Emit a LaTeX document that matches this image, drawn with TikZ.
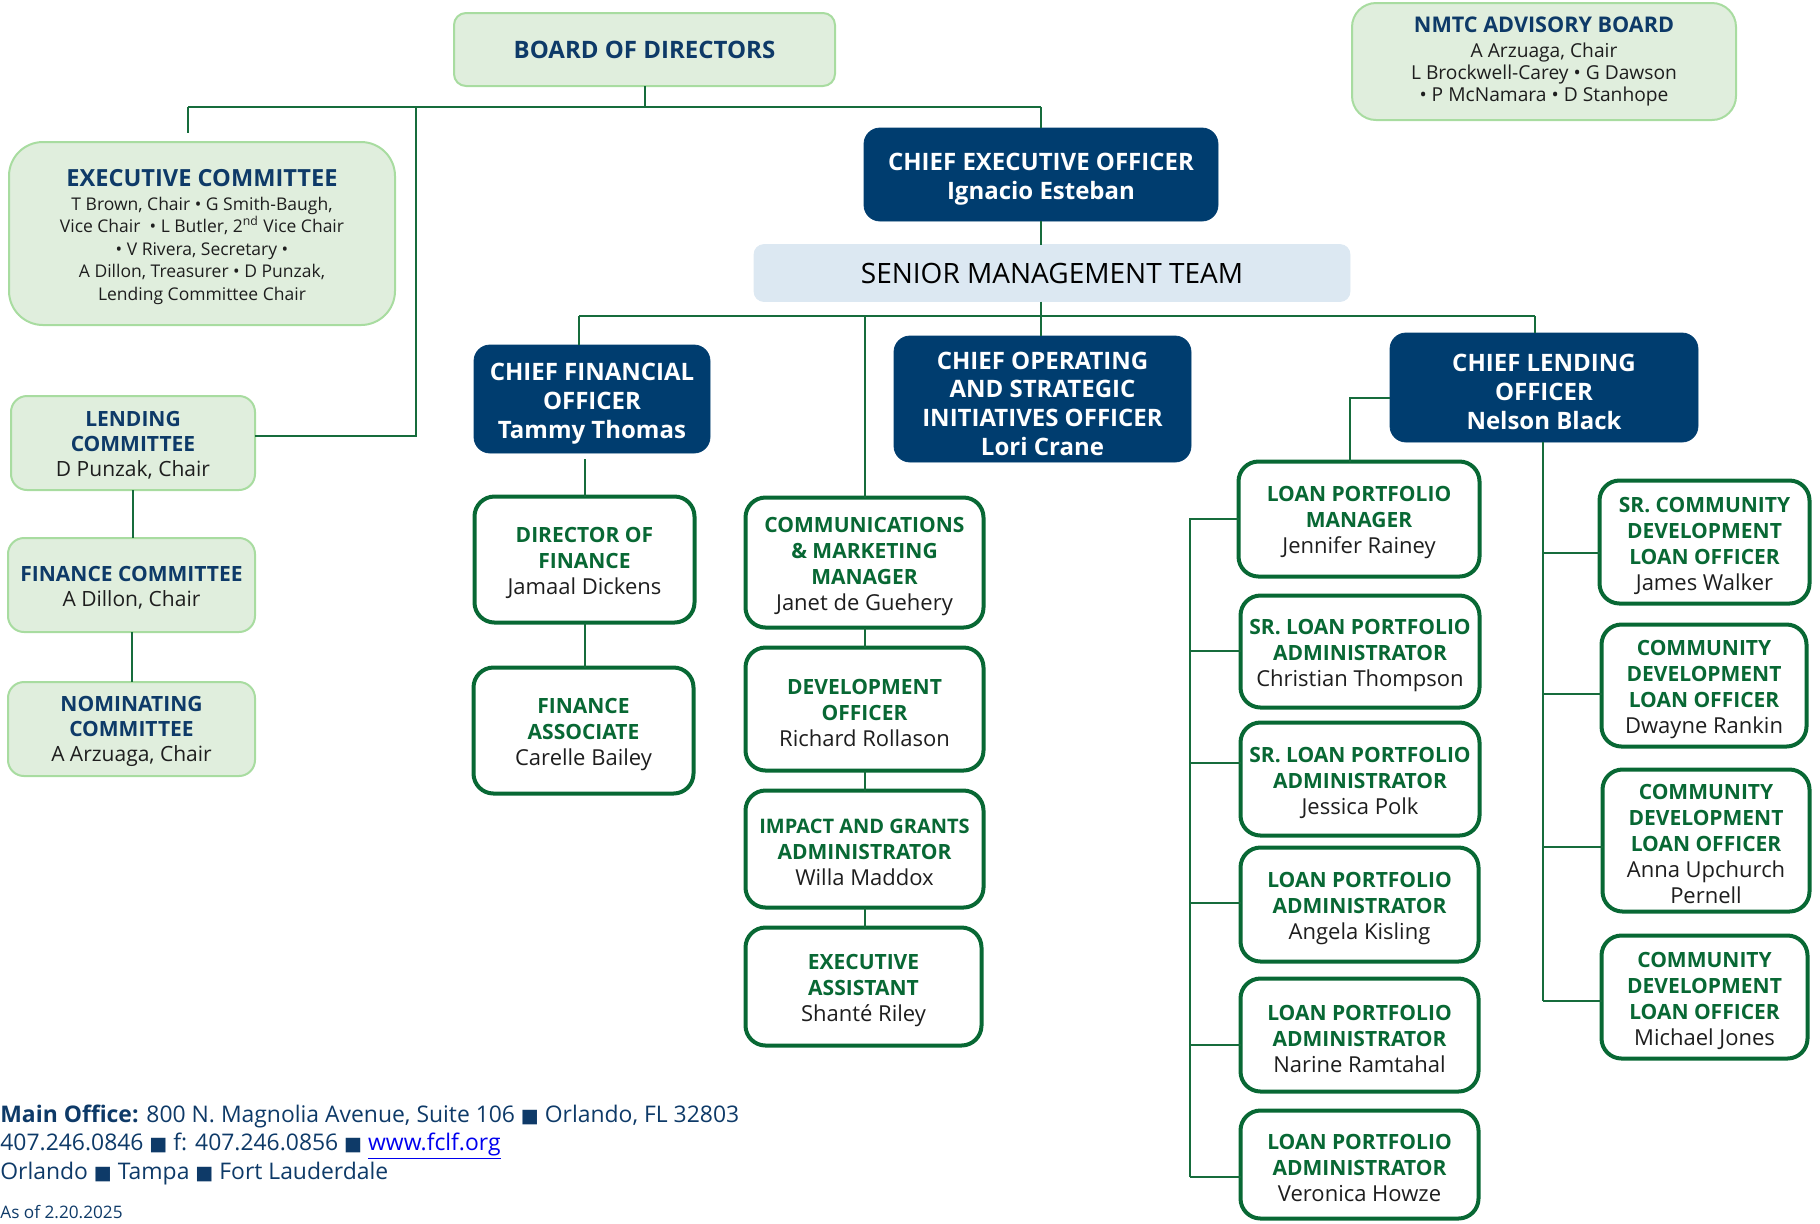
\documentclass[tikz,border=0pt]{standalone}
\usepackage{fontspec}
\setmainfont{Open Sans}
\newfontfamily\symfont{DejaVu Sans}
\usetikzlibrary{calc}
\definecolor{navy}{RGB}{0,61,111}
\definecolor{tblue}{RGB}{14,58,104}
\definecolor{dgreen}{RGB}{8,104,52}
\definecolor{lgreen}{RGB}{224,238,221}
\definecolor{lgborder}{RGB}{168,220,160}
\definecolor{smtblue}{RGB}{220,232,242}
\definecolor{bodyc}{RGB}{30,30,30}
\definecolor{connc}{RGB}{22,108,60}
\definecolor{linkblue}{RGB}{0,0,238}
\newcommand{\grt}[1]{{\bfseries\fontsize{10.5}{13}\selectfont\color{dgreen}#1}}
\newcommand{\ctt}[1]{{\bfseries\color{tblue}#1}}
\newcommand{\sqm}{{\symfont\fontsize{9.5}{9.5}\selectfont ■}}
\newcommand{\tpad}[1]{\rule{0pt}{#1}}
\begin{document}
\begin{tikzpicture}[x=0.5pt,y=-0.5pt,
  sz/.style 2 args={minimum width={#1*0.5pt}, minimum height={#2*0.5pt}},
  box/.style={rectangle, align=center, inner sep=0pt, outer sep=0pt},
  navybox/.style={box, fill=navy, draw=navy, text=white, rounded corners=8pt, font=\bfseries\fontsize{12}{14.5}\selectfont},
  greenbox/.style={box, fill=white, draw=dgreen, line width=2pt, rounded corners=10pt, text=bodyc, font=\fontsize{11}{13}\selectfont},
  commbox/.style={box, fill=lgreen, draw=lgborder, line width=1pt, rounded corners=8pt, text=bodyc},
  conn/.style={draw=connc, line width=1pt}
]
\useasboundingbox (0,0) rectangle (1820,1223);
% Board level
\node[commbox, sz={381}{73}, rounded corners=6pt, font=\bfseries\fontsize{12}{14}\selectfont, text=tblue] (board) at (644.5,49.5) {BOARD OF DIRECTORS};
\node[commbox, sz={386}{183}, rounded corners=17pt, font=\fontsize{8.75}{11.25}\selectfont] (exec) at (202,233.5)
  {\tpad{12.2pt}{\bfseries\color{tblue}\fontsize{11.8}{14}\selectfont EXECUTIVE COMMITTEE}\\[0.5pt]
   T Brown, Chair • G Smith-Baugh,\\Vice Chair~ • L Butler, 2\textsuperscript{nd} Vice Chair\\• V Rivera, Secretary •\\A Dillon, Treasurer • D Punzak,\\Lending Committee Chair};
\node[commbox, sz={384}{117}, rounded corners=12pt, font=\fontsize{9.6}{11}\selectfont] (nmtc) at (1544,61.5)
  {{\bfseries\color{tblue}\fontsize{10.8}{12}\selectfont NMTC ADVISORY BOARD}\\[1.5pt]A Arzuaga, Chair\\L Brockwell-Carey • G Dawson\\• P McNamara • D Stanhope};
\node[commbox, sz={244}{94}, font=\fontsize{10.5}{12.5}\selectfont] (lending) at (133,443) {\tpad{9.9pt}\ctt{LENDING}\\\ctt{COMMITTEE}\\D Punzak, Chair};
\node[commbox, sz={247}{94}, font=\fontsize{10.5}{12.5}\selectfont] (finance) at (131.5,585) {\tpad{9.9pt}\ctt{FINANCE COMMITTEE}\\A Dillon, Chair};
\node[commbox, sz={247}{94}, font=\fontsize{10.5}{12.5}\selectfont] (nominating) at (131.5,729) {\tpad{9.9pt}\ctt{NOMINATING}\\\ctt{COMMITTEE}\\A Arzuaga, Chair};
% Executives
\node[navybox, sz={354}{93}] (ceo) at (1041,174.5) {\tpad{13.6pt}CHIEF EXECUTIVE OFFICER\\Ignacio Esteban};
\node[box, fill=smtblue, draw=smtblue, sz={596}{57}, rounded corners=5pt, font=\fontsize{14}{16}\selectfont, text=black] (smt) at (1052,273) {SENIOR MANAGEMENT TEAM};
\node[navybox, sz={236}{108}] (cfo) at (592,399) {\tpad{13.6pt}CHIEF FINANCIAL\\OFFICER\\Tammy Thomas};
\node[navybox, sz={297}{126}] (coo) at (1042.5,399) {\tpad{13.6pt}CHIEF OPERATING\\AND STRATEGIC\\INITIATIVES OFFICER\\Lori Crane};
\node[navybox, sz={308}{109}] (clo) at (1544,387.5) {\tpad{13.6pt}CHIEF LENDING\\OFFICER\\Nelson Black};
% Finance column
\node[greenbox, sz={220}{126}] (dof) at (584.5,559.5) {\tpad{11.2pt}\grt{DIRECTOR OF}\\\grt{FINANCE}\\Jamaal Dickens};
\node[greenbox, sz={220}{126}] (finassoc) at (583.5,730.5) {\tpad{11.2pt}\grt{FINANCE}\\\grt{ASSOCIATE}\\Carelle Bailey};
% Operations column
\node[greenbox, sz={238}{130}] (comms) at (864.5,562.5) {\tpad{11.2pt}\grt{COMMUNICATIONS}\\\grt{\& MARKETING}\\\grt{MANAGER}\\Janet de Guehery};
\node[greenbox, sz={238}{123}] (dev) at (864.5,709) {\tpad{11.2pt}\grt{DEVELOPMENT}\\\grt{OFFICER}\\Richard Rollason};
\node[greenbox, sz={238}{117}] (impact) at (864.5,849) {\tpad{11pt}\grt{\fontsize{10}{13}\selectfont IMPACT AND GRANTS}\\\grt{ADMINISTRATOR}\\Willa Maddox};
\node[greenbox, sz={236}{118}] (execasst) at (863.5,986.5) {\tpad{11.2pt}\grt{EXECUTIVE}\\\grt{ASSISTANT}\\Shanté Riley};
% Lending: portfolio column
\node[greenbox, sz={241}{115}] (lpm) at (1359,519) {\tpad{11.2pt}\grt{LOAN PORTFOLIO}\\\grt{MANAGER}\\Jennifer Rainey};
\node[greenbox, sz={239}{112}] (chris) at (1360,651.5) {\tpad{11.2pt}\grt{SR. LOAN PORTFOLIO}\\\grt{ADMINISTRATOR}\\Christian Thompson};
\node[greenbox, sz={239}{113}] (jess) at (1360,779) {\tpad{11.2pt}\grt{SR. LOAN PORTFOLIO}\\\grt{ADMINISTRATOR}\\Jessica Polk};
\node[greenbox, sz={238}{114}] (angela) at (1359.5,904.5) {\tpad{11.2pt}\grt{LOAN PORTFOLIO}\\\grt{ADMINISTRATOR}\\Angela Kisling};
\node[greenbox, sz={238}{113}] (narine) at (1359.5,1035) {\tpad{11.2pt}\grt{LOAN PORTFOLIO}\\\grt{ADMINISTRATOR}\\Narine Ramtahal};
\node[greenbox, sz={238}{108}] (veronica) at (1359.5,1164.5) {\tpad{11.2pt}\grt{LOAN PORTFOLIO}\\\grt{ADMINISTRATOR}\\Veronica Howze};
% Lending: community development column
\node[greenbox, sz={210}{123}] (srcdlo) at (1704.5,542) {\tpad{11.2pt}\grt{SR. COMMUNITY}\\\grt{DEVELOPMENT}\\\grt{LOAN OFFICER}\\James Walker};
\node[greenbox, sz={205}{122}] (dwayne) at (1704,685.5) {\tpad{11.2pt}\grt{COMMUNITY}\\\grt{DEVELOPMENT}\\\grt{LOAN OFFICER}\\Dwayne Rankin};
\node[greenbox, sz={207}{142}] (anna) at (1706,840.5) {\tpad{11.2pt}\grt{COMMUNITY}\\\grt{DEVELOPMENT}\\\grt{LOAN OFFICER}\\Anna Upchurch\\Pernell};
\node[greenbox, sz={206}{123}] (michael) at (1704.5,997) {\tpad{11.6pt}\grt{COMMUNITY}\\\grt{DEVELOPMENT}\\\grt{LOAN OFFICER}\\Michael Jones};
% Connectors
\coordinate (bL) at (188,107);
\coordinate (bM) at (416,107);
\coordinate (bR) at (1041,107);
\draw[conn] (board.south) -- (board.south |- bL);
\draw[conn] (bL) -- (bR);
\draw[conn, shorten >=4.5pt] (bL) -- (exec.north -| bL);
\draw[conn] (bM) |- (lending.east |- 0,435.7);
\draw[conn] (bR) -- (ceo.north -| bR);
\draw[conn] (ceo.south) -- (smt.north -| ceo.south);
\coordinate (sL) at (579,316);
\coordinate (sC) at (865,316);
\coordinate (sM) at (1041,316);
\coordinate (sR) at (1535,316);
\draw[conn] (smt.south -| sM) -- (sM);
\draw[conn] (sL) -- (sR);
\draw[conn] (sL) -- (cfo.north -| sL);
\draw[conn] (sC) -- (comms.north -| sC);
\draw[conn] (sM) -- (coo.north -| sM);
\draw[conn] (sR) -- (clo.north -| sR);
\draw[conn, shorten <=3pt] (cfo.south -| dof.north) -- (dof.north);
\draw[conn] (dof.south) -- (finassoc.north -| dof.south);
\draw[conn] (comms.south) -- (dev.north -| comms.south);
\draw[conn] (dev.south) -- (impact.north -| dev.south);
\draw[conn] (impact.south) -- (execasst.north -| impact.south);
\draw[conn] (lending.south) -- (finance.north -| lending.south);
\draw[conn] (finance.south) -- (nominating.north -| finance.south);
\draw[conn] (clo.west |- 0,398) -| (lpm.north -| 1350,0);
\coordinate (lpT) at (1190,519);
\coordinate (lpB) at (1190,1177);
\draw[conn] (lpm.west) -- (lpT) -- (lpB);
\draw[conn] (lpT |- 0,651) -- (chris.west |- 0,651);
\draw[conn] (lpT |- 0,763) -- (jess.west |- 0,763);
\draw[conn] (lpT |- 0,903) -- (angela.west |- 0,903);
\draw[conn] (lpT |- 0,1045) -- (narine.west |- 0,1045);
\draw[conn] (lpB) -- (veronica.west |- lpB);
\coordinate (cT) at (1543,442);
\coordinate (cB) at (1543,1001);
\draw[conn] (clo.south -| cT) -- (cB);
\draw[conn] (cT |- 0,553) -- (srcdlo.west |- 0,553);
\draw[conn] (cT |- 0,694) -- (dwayne.west |- 0,694);
\draw[conn] (cT |- 0,847) -- (anna.west |- 0,847);
\draw[conn] (cB) -- (michael.west |- cB);
% Footer
\node[anchor=base west, inner sep=0pt, font=\fontsize{11.45}{13}\selectfont, text=tblue] (addr1) at (0,1122) {\textbf{Main Office:} 800 N. Magnolia Avenue, Suite 106 \sqm{} Orlando, FL 32803};
\node[anchor=base west, inner sep=0pt, font=\fontsize{11.45}{13}\selectfont, text=tblue] (addr2) at (0,1150) {407.246.0846 \sqm{} f: 407.246.0856 \sqm{} \textcolor{linkblue}{\underline{www.fclf.org}}};
\node[anchor=base west, inner sep=0pt, font=\fontsize{11.45}{13}\selectfont, text=tblue] (addr3) at (0,1179) {Orlando \sqm{} Tampa \sqm{} Fort Lauderdale};
\node[anchor=base west, inner sep=0pt, font=\fontsize{8.6}{9}\selectfont, text=tblue] (asof) at (0,1218) {As of 2.20.2025};
\end{tikzpicture}
\end{document}
